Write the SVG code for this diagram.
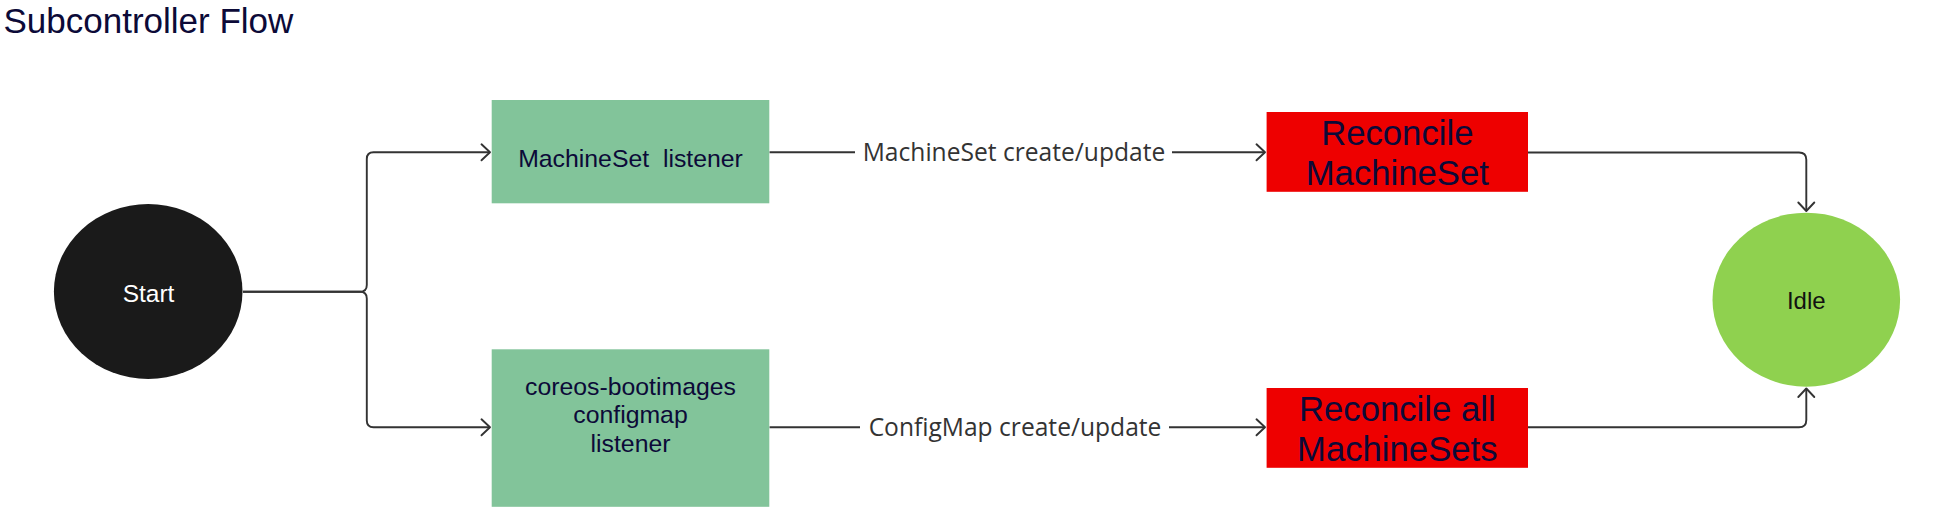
<svg xmlns="http://www.w3.org/2000/svg" width="1943" height="514" viewBox="0 0 1943 514">
<style>
.node-text{font-family:"Liberation Sans",Arial,sans-serif;fill:#0c0a38;text-anchor:middle}
.edge{fill:none;stroke:#333333;stroke-width:1.9;stroke-linejoin:round}
.label{font-family:"Open Sans","Noto Sans",sans-serif;font-size:24.6px;fill:#333333;text-anchor:middle}
.label-bg{fill:#ffffff}
</style>
<defs>
<marker id="arrow" markerUnits="userSpaceOnUse" markerWidth="24" markerHeight="24" viewBox="-12 -12 24 24" refX="0" refY="0" orient="auto">
<path d="M-8.5,-8 L0,0 L-8.5,8" fill="none" stroke="#333333" stroke-width="1.9" stroke-linejoin="round" stroke-linecap="round"/>
</marker>
</defs>
<rect width="1943" height="514" fill="#ffffff"/>
<text x="3.5" y="33.3" font-family="'Liberation Sans',Arial,sans-serif" font-size="35" fill="#0c0a38">Subcontroller Flow</text>

<g id="connectors">
<path class="edge" d="M243,291.7 H360 Q366.8,291.7 366.8,285 V159 Q366.8,152.3 373.5,152.3 H490" marker-end="url(#arrow)"/>
<path class="edge" d="M243,291.7 H360 Q366.8,291.7 366.8,298.4 V420.6 Q366.8,427.3 373.5,427.3 H490" marker-end="url(#arrow)"/>
<path class="edge" d="M769.5,152.3 H1265" marker-end="url(#arrow)"/>
<rect class="label-bg" x="855" y="137" width="317" height="32"/>
<text class="label" x="1014" y="160.5">MachineSet create/update</text>
<path class="edge" d="M769.5,427.3 H1265" marker-end="url(#arrow)"/>
<rect class="label-bg" x="860" y="412" width="309" height="32"/>
<text class="label" x="1015" y="435.5">ConfigMap create/update</text>
<path class="edge" d="M1528,152.5 H1799 Q1806.3,152.5 1806.3,159.8 V211" marker-end="url(#arrow)"/>
<path class="edge" d="M1528,427.3 H1799 Q1806.3,427.3 1806.3,420 V388.5" marker-end="url(#arrow)"/>
</g>

<g id="start">
<ellipse cx="148.2" cy="291.5" rx="94.3" ry="87.5" fill="#1a1a1a"/>
<text class="node-text" x="148.5" y="301.5" font-size="24.5" style="fill:#ffffff">Start</text>
</g>

<g id="machineset-listener">
<rect x="491.7" y="100" width="277.6" height="103.3" fill="#82c49a"/>
<text class="node-text" x="630.5" y="166.7" font-size="24.8" xml:space="preserve">MachineSet  listener</text>
</g>

<g id="configmap-listener">
<rect x="491.7" y="349.3" width="277.6" height="157.5" fill="#82c49a"/>
<text class="node-text" font-size="24.8"><tspan x="630.5" y="395">coreos-bootimages</tspan><tspan x="630.5" y="423.3">configmap</tspan><tspan x="630.5" y="451.7">listener</tspan></text>
</g>

<g id="reconcile-machineset">
<rect x="1266.6" y="112" width="261.4" height="79.8" fill="#ee0000"/>
<text class="node-text" font-size="34.7"><tspan x="1397.3" y="145">Reconcile</tspan><tspan x="1397.3" y="184.7">MachineSet</tspan></text>
</g>

<g id="reconcile-all">
<rect x="1266.6" y="388" width="261.4" height="79.8" fill="#ee0000"/>
<text class="node-text" font-size="34.7"><tspan x="1397.3" y="421.4">Reconcile all</tspan><tspan x="1397.3" y="461">MachineSets</tspan></text>
</g>

<g id="idle">
<ellipse cx="1806.3" cy="299.7" rx="93.8" ry="87" fill="#8fd14f"/>
<text class="node-text" x="1806.3" y="309" font-size="24" style="fill:#111111">Idle</text>
</g>
</svg>
